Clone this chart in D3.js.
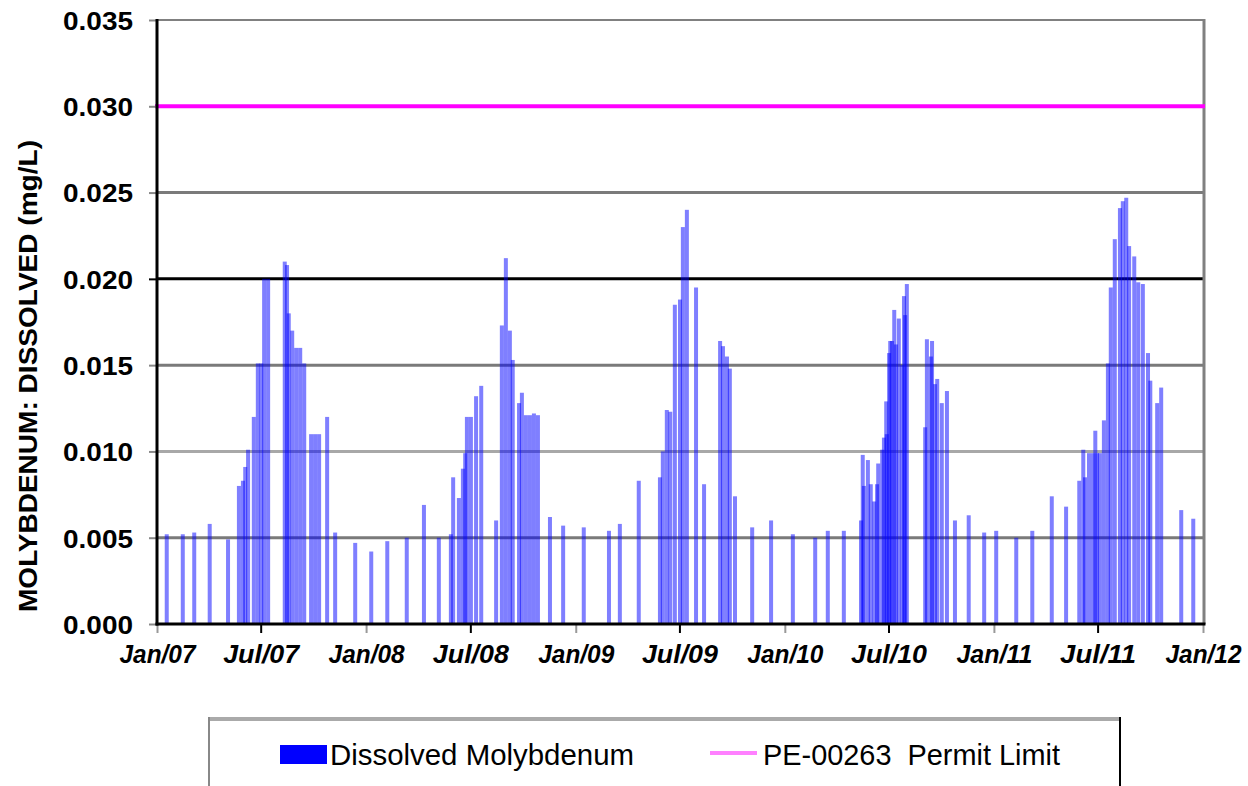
<!DOCTYPE html>
<html>
<head>
<meta charset="utf-8">
<script src="https://cdn.jsdelivr.net/npm/d3@7"></script>
<style>
  html, body { margin: 0; padding: 0; background: #fff; }
  svg { display: block; }
  text { font-family: "Liberation Sans", Arial, sans-serif; fill: #000; }
</style>
</head>
<body>
<svg id="chart" width="1248" height="786"></svg>
<script>
// Sample dates (dissolved molybdenum, mg/L)
const sampleDates = [
  "2007-01-18","2007-02-15","2007-03-07","2007-04-03","2007-05-05","2007-05-24","2007-05-31","2007-06-04",
  "2007-06-09","2007-06-19","2007-06-26","2007-07-02","2007-07-07","2007-07-14","2007-08-12","2007-08-16",
  "2007-08-19","2007-08-25","2007-09-01","2007-09-08","2007-09-15","2007-09-27","2007-10-04","2007-10-11",
  "2007-10-25","2007-11-08","2007-12-13",
  "2008-01-10","2008-02-07","2008-03-12","2008-04-11","2008-05-07","2008-05-28","2008-06-01","2008-06-11",
  "2008-06-18","2008-06-22","2008-06-25","2008-07-02","2008-07-11","2008-07-20","2008-08-15","2008-08-25",
  "2008-09-01","2008-09-08","2008-09-13","2008-09-24","2008-09-29","2008-10-06","2008-10-13","2008-10-20",
  "2008-10-27","2008-11-17","2008-12-10",
  "2009-01-15","2009-02-28","2009-03-19","2009-04-21","2009-05-28","2009-06-02","2009-06-09","2009-06-15",
  "2009-06-23","2009-07-02","2009-07-07","2009-07-14","2009-07-30","2009-08-13","2009-09-10","2009-09-15",
  "2009-09-22","2009-09-27","2009-10-06","2009-11-05","2009-12-08",
  "2010-01-15","2010-02-23","2010-03-17","2010-04-14","2010-05-14","2010-05-17","2010-05-19","2010-05-26",
  "2010-05-31","2010-06-06","2010-06-11","2010-06-13","2010-06-20","2010-06-23","2010-06-27","2010-06-28",
  "2010-07-02","2010-07-04","2010-07-07","2010-07-11","2010-07-14","2010-07-19","2010-07-25","2010-07-28",
  "2010-07-30","2010-08-02","2010-09-03","2010-09-06","2010-09-13","2010-09-15","2010-09-20","2010-09-24",
  "2010-10-02","2010-10-11","2010-10-25","2010-11-18","2010-12-15",
  "2011-01-05","2011-02-09","2011-03-09","2011-04-12","2011-05-07","2011-05-30","2011-06-06","2011-06-09",
  "2011-06-16","2011-06-23","2011-06-27","2011-06-30","2011-07-05","2011-07-12","2011-07-19","2011-07-24",
  "2011-07-31","2011-08-09","2011-08-14","2011-08-20","2011-08-25","2011-09-03","2011-09-10","2011-09-18",
  "2011-09-27","2011-10-01","2011-10-13","2011-10-20","2011-11-24","2011-12-15"
];

const dissolvedMo = [
  0.0052,0.0052,0.0053,0.0058,0.0049,0.0080,0.0083,0.0091,
  0.0101,0.0120,0.0151,0.0151,0.0200,0.0200,0.0210,0.0208,
  0.0180,0.0170,0.0160,0.0160,0.0151,0.0110,0.0110,0.0110,
  0.0120,0.0053,0.0047,
  0.0042,0.0048,0.0050,0.0069,0.0050,0.0052,0.0085,0.0073,
  0.0090,0.0099,0.0120,0.0120,0.0132,0.0138,0.0060,0.0173,
  0.0212,0.0170,0.0153,0.0128,0.0134,0.0121,0.0121,0.0122,
  0.0121,0.0062,0.0057,
  0.0056,0.0054,0.0058,0.0083,0.0085,0.0100,0.0124,0.0123,
  0.0185,0.0188,0.0230,0.0240,0.0195,0.0081,0.0164,0.0161,
  0.0155,0.0148,0.0074,0.0056,0.0060,
  0.0052,0.0050,0.0054,0.0054,0.0060,0.0098,0.0080,0.0095,
  0.0081,0.0071,0.0081,0.0093,0.0101,0.0108,0.0129,0.0110,
  0.0157,0.0164,0.0164,0.0182,0.0162,0.0177,0.0150,0.0190,
  0.0179,0.0197,0.0114,0.0165,0.0155,0.0164,0.0139,0.0142,
  0.0128,0.0135,0.0060,0.0063,0.0053,
  0.0054,0.0050,0.0054,0.0074,0.0068,0.0083,0.0101,0.0085,
  0.0099,0.0099,0.0112,0.0099,0.0099,0.0118,0.0151,0.0195,
  0.0223,0.0241,0.0245,0.0247,0.0219,0.0213,0.0198,0.0197,
  0.0157,0.0141,0.0128,0.0137,0.0066,0.0061
];

const permitLimit = 0.030;
const yTicks = [0, 0.005, 0.010, 0.015, 0.020, 0.025, 0.030, 0.035];
const xTickDates = [
  "2007-01-01","2007-07-01","2008-01-01","2008-07-01","2009-01-01","2009-07-01",
  "2010-01-01","2010-07-01","2011-01-01","2011-07-01","2012-01-01"
];
const seriesNames = ["Dissolved Molybdenum", "PE-00263  Permit Limit"];
const yTitle = "MOLYBDENUM: DISSOLVED (mg/L)";

const parse = d3.utcParse("%Y-%m-%d");
const samples = sampleDates.map((d, i) => ({ date: parse(d), value: dissolvedMo[i] }));
const tickDates = xTickDates.map(parse);

const svg = d3.select("#chart");
const plot = { left: 157, right: 1203, top: 20, bottom: 624 };

const x = d3.scaleUtc()
  .domain([tickDates[0], tickDates[tickDates.length - 1]])
  .range([plot.left, plot.right]);
const y = d3.scaleLinear()
  .domain([0, 0.035])
  .range([plot.bottom, plot.top]);

// Horizontal gridlines
const gridStroke = v => Math.abs(v - 0.020) < 1e-9 ? "#000" : (Math.abs(v - 0.010) < 1e-9 ? "#a8a8a8" : "#7a7a7a");
svg.append("g")
  .selectAll("line")
  .data(yTicks.filter(v => v > 0 && v < 0.035 && Math.abs(v - permitLimit) > 1e-9))
  .join("line")
  .attr("x1", plot.left).attr("x2", plot.right)
  .attr("y1", d => y(d)).attr("y2", d => y(d))
  .attr("stroke", gridStroke)
  .attr("stroke-width", 3);

// Frame: top and right borders
svg.append("line")
  .attr("x1", plot.left).attr("x2", plot.right + 1.5)
  .attr("y1", y(0.035)).attr("y2", y(0.035))
  .attr("stroke", "#808080").attr("stroke-width", 2);
svg.append("line")
  .attr("x1", plot.right + 1).attr("x2", plot.right + 1)
  .attr("y1", y(0.035) - 1).attr("y2", plot.bottom)
  .attr("stroke", "#808080").attr("stroke-width", 3);

// Sample bars (semi-transparent so that close samples build up darker)
const barW = 4;
svg.append("g")
  .selectAll("rect")
  .data(samples)
  .join("rect")
  .attr("x", d => x(d.date) - barW / 2)
  .attr("width", barW)
  .attr("y", d => y(d.value))
  .attr("height", d => y(0) - y(d.value))
  .attr("fill", "#0000ff")
  .attr("fill-opacity", 0.5);

// Permit limit
svg.append("line")
  .attr("x1", plot.left - 2).attr("x2", plot.right + 2)
  .attr("y1", y(permitLimit)).attr("y2", y(permitLimit))
  .attr("stroke", "#ff00ff").attr("stroke-width", 4);

// Y axis
const yAxis = svg.append("g")
  .attr("transform", `translate(${plot.left},0)`)
  .call(d3.axisLeft(y).tickValues(yTicks).tickFormat(d3.format(".3f")).tickSize(8).tickPadding(16));
yAxis.select(".domain").remove();
yAxis.selectAll(".tick line")
  .attr("stroke", d => Math.abs(d - 0.020) < 1e-9 ? "#000" : "#888")
  .attr("stroke-width", 2);
yAxis.selectAll(".tick text")
  .attr("font-size", 26)
  .attr("font-weight", "bold")
  .attr("textLength", 70)
  .attr("lengthAdjust", "spacingAndGlyphs")
  .attr("dy", "0.36em");

// X axis
const xAxis = svg.append("g")
  .attr("transform", `translate(0,${plot.bottom})`)
  .call(d3.axisBottom(x).tickValues(tickDates).tickFormat(d3.utcFormat("%b/%y")).tickSize(9).tickPadding(12));
xAxis.select(".domain").remove();
xAxis.selectAll(".tick line")
  .attr("stroke", d => d.getUTCMonth() === 6 ? "#000" : "#999")
  .attr("stroke-width", 2);
xAxis.selectAll(".tick text")
  .attr("font-size", 25)
  .attr("font-weight", "bold")
  .attr("font-style", "italic")
  .attr("textLength", 76)
  .attr("lengthAdjust", "spacingAndGlyphs")
  .attr("dy", "0.71em");

// Axis lines
svg.append("line")
  .attr("x1", plot.left).attr("x2", plot.left)
  .attr("y1", plot.top - 1).attr("y2", plot.bottom + 1.5)
  .attr("stroke", "#000").attr("stroke-width", 3);
svg.append("line")
  .attr("x1", plot.left - 1.5).attr("x2", plot.right + 2.5)
  .attr("y1", plot.bottom).attr("y2", plot.bottom)
  .attr("stroke", "#000").attr("stroke-width", 3);

// Y axis title
svg.append("text")
  .attr("transform", "translate(37,376) rotate(-90)")
  .attr("text-anchor", "middle")
  .attr("font-size", 26)
  .attr("font-weight", "bold")
  .attr("textLength", 472)
  .attr("lengthAdjust", "spacingAndGlyphs")
  .text(yTitle);

// Legend box
const legend = svg.append("g");
legend.append("rect")
  .attr("x", 208).attr("y", 717).attr("width", 912).attr("height", 90)
  .attr("fill", "#fff").attr("stroke", "none");
legend.append("line").attr("x1", 208).attr("x2", 1121).attr("y1", 719).attr("y2", 719)
  .attr("stroke", "#aaa").attr("stroke-width", 4);
legend.append("line").attr("x1", 209).attr("x2", 209).attr("y1", 717).attr("y2", 786)
  .attr("stroke", "#888").attr("stroke-width", 2);
legend.append("line").attr("x1", 1120).attr("x2", 1120).attr("y1", 717).attr("y2", 786)
  .attr("stroke", "#000").attr("stroke-width", 2);

legend.append("rect")
  .attr("x", 280).attr("y", 745).attr("width", 47).attr("height", 19)
  .attr("fill", "#0000ff");
legend.append("text")
  .attr("x", 330).attr("y", 765)
  .attr("font-size", 29)
  .attr("textLength", 304)
  .attr("lengthAdjust", "spacingAndGlyphs")
  .text(seriesNames[0]);

legend.append("line")
  .attr("x1", 710).attr("x2", 757).attr("y1", 753).attr("y2", 753)
  .attr("stroke", "#ff80ff").attr("stroke-width", 4);
legend.append("text")
  .attr("x", 763).attr("y", 765)
  .attr("font-size", 29)
  .attr("style", "white-space: pre")
  .attr("textLength", 297)
  .attr("lengthAdjust", "spacingAndGlyphs")
  .text(seriesNames[1]);
</script>
</body>
</html>
